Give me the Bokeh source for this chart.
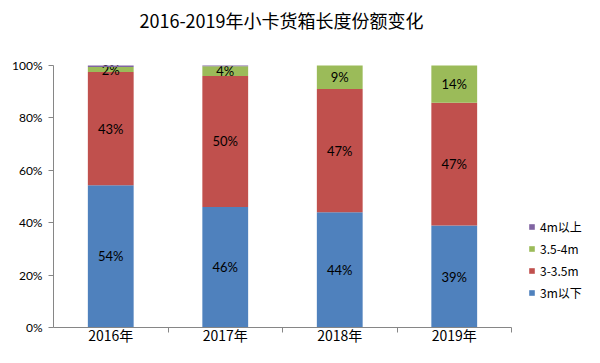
from bokeh.plotting import figure
from bokeh.models import (ColumnDataSource, Range1d, FixedTicker, NumeralTickFormatter,
                          Legend, LegendItem, Label)
from bokeh.core.properties import value
from bokeh.embed import file_html
from bokeh.resources import INLINE
import numpy as np

# ---- data ----
years = ["2016年", "2017年", "2018年", "2019年"]
series = ["3m以下", "3-3.5m", "3.5-4m", "4m以上"]
s_3m_below = [0.543, 0.460, 0.440, 0.389]
s_3_35 = [0.432, 0.500, 0.470, 0.469]
s_35_4 = [0.019, 0.037, 0.090, 0.142]
s_4m_above = [0.006, 0.003, 0.0, 0.0]
colors = ["#4F81BD", "#C0504D", "#9BBB59", "#8064A2"]
labelled = [True, True, True, False]

title_text = "2016-2019年小卡货箱长度份额变化"
FONT_NUM = "Lato, 'Noto Sans CJK SC', sans-serif"
FONT_CJK = "'Noto Sans CJK SC', sans-serif"

vals = [s_3m_below, s_3_35, s_35_4, s_4m_above]
xs = np.arange(len(years)) + 0.5

W, H = 584, 347
ML, MT = 53, 65          # left border, space above the 100% line
FRAME_H = 262            # pixel height from 0% to 100%
frame_w = W - ML
p = figure(width=W, height=H, output_backend="svg", toolbar_location=None,
           x_range=Range1d(0, frame_w / 114.5),
           y_range=Range1d(0, (FRAME_H + MT) / FRAME_H),
           min_border_left=ML, min_border_right=0, min_border_top=0,
           min_border_bottom=0)
p.title.visible = False
p.outline_line_color = None
p.xgrid.visible = False
p.ygrid.visible = False
p.background_fill_color = "white"
p.border_fill_color = "white"

title = Label(x=228, y=FRAME_H + 46, x_units="screen", y_units="screen",
              text=title_text, text_align="center", text_baseline="middle",
              text_font=FONT_CJK, text_font_size="18px", text_color="#000000")
p.add_layout(title)

bottom = np.zeros(len(years))
renderers = []
for name, v, c, lab in zip(series, vals, colors, labelled):
    v = np.array(v)
    top = bottom + v
    src = ColumnDataSource(dict(x=xs, bottom=bottom.copy(), top=top.copy()))
    r = p.vbar(x="x", bottom="bottom", top="top", width=0.40, color=c,
               line_color=None, source=src)
    renderers.append((name, r))
    if lab:
        tsrc = ColumnDataSource(dict(x=xs[v > 0], mid=((bottom + top) / 2)[v > 0],
                                     txt=[f"{round(val * 100)}%" for val in v[v > 0]]))
        p.text(x="x", y="mid", text="txt", source=tsrc, text_align="center",
               text_baseline="middle", text_font=value(FONT_NUM),
               text_font_size="13px", text_color="#000000")
    bottom = top

# axes
xa = p.xaxis[0]
xa.ticker = FixedTicker(ticks=list(xs), minor_ticks=[1, 2, 3, 4])
xa.major_label_overrides = {float(x): y for x, y in zip(xs, years)}
xa.major_tick_line_color = None
xa.major_tick_out = 0
xa.major_tick_in = 0
xa.minor_tick_in = 0
xa.minor_tick_out = 5
xa.minor_tick_line_color = "#868686"
xa.axis_line_color = "#868686"
xa.bounds = (0, 4)
xa.major_label_text_font = FONT_CJK
xa.major_label_text_font_size = "14px"
xa.major_label_text_color = "#000000"
xa.major_label_standoff = -8

ya = p.yaxis[0]
ya.ticker = FixedTicker(ticks=[0, 0.2, 0.4, 0.6, 0.8, 1.0], minor_ticks=[])
ya.formatter = NumeralTickFormatter(format="0%")
ya.bounds = (0, 1)
ya.axis_line_color = "#868686"
ya.major_tick_line_color = "#868686"
ya.major_tick_in = 0
ya.major_tick_out = 5
ya.major_label_text_font = FONT_NUM
ya.major_label_text_font_size = "12px"
ya.major_label_text_color = "#000000"
ya.major_label_standoff = 6

items = [LegendItem(label=name, renderers=[r]) for name, r in reversed(renderers)]
legend = Legend(items=items, location=(475, 26), orientation="vertical",
                border_line_color=None, background_fill_alpha=0,
                glyph_width=7, glyph_height=7, label_height=12, spacing=5,
                padding=0, margin=0, label_standoff=5,
                label_text_font=FONT_CJK, label_text_font_size="12px",
                label_text_color="#000000")
p.add_layout(legend)

open("out.html", "w").write(file_html(p, INLINE))
